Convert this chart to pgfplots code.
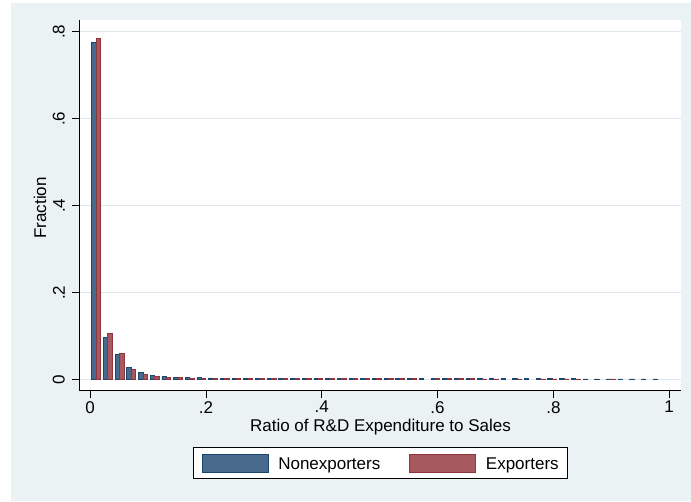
\documentclass[border=0pt]{standalone}
\usepackage{fontspec}
\setmainfont{Liberation Sans}
\usepackage{pgfplots}
\pgfplotsset{compat=1.18}
\usepackage{pgfplotstable}

\definecolor{graphbg}{RGB}{234,242,243}
\definecolor{gridc}{RGB}{222,232,236}
\definecolor{navyline}{RGB}{26,71,111}
\definecolor{navyfill}{RGB}{71,106,141}
\definecolor{maroonline}{RGB}{144,53,59}
\definecolor{maroonfill}{RGB}{166,90,96}

\newcommand\lblfont{\fontsize{17}{20}\selectfont}

\pgfplotsset{
  barkey/.style={legend image code/.code={\draw[##1] (0pt,-2.75pt) rectangle (66pt,14.95pt);}},
}

% Fraction of firms in each R&D-intensity bin (bin width 0.0202)
\pgfplotstableread{
x      y
0.0101 0.775
0.0303 0.097
0.0505 0.059
0.0707 0.028
0.0909 0.017
0.1111 0.0105
0.1313 0.0077
0.1515 0.0058
0.1717 0.0050
0.1919 0.0044
0.2121 0.0040
0.2323 0.0038
0.2525 0.0036
0.2727 0.0035
0.2929 0.0034
0.3131 0.0033
0.3333 0.0032
0.3535 0.0031
0.3737 0.0030
0.3939 0.0030
0.4141 0.0029
0.4343 0.0029
0.4545 0.0028
0.4747 0.0028
0.4949 0.0027
0.5151 0.0027
0.5353 0.0026
0.5555 0.0026
0.5757 0.0024
0.5959 0.0025
0.6161 0.0025
0.6363 0.0024
0.6565 0.0024
0.6767 0.0024
0.6969 0.0023
0.7171 0.0022
0.7373 0.0023
0.7575 0.0021
0.7777 0.0022
0.7979 0.0022
0.8181 0.0021
0.8383 0.0021
0.8585 0.0020
0.8787 0.0020
0.8989 0.0020
0.9191 0.0019
0.9393 0.0019
0.9595 0.0019
0.9797 0.0019
}\nonexporters

\pgfplotstableread{
x      y
0.0101 0.785
0.0303 0.107
0.0505 0.060
0.0707 0.0245
0.0909 0.0115
0.1111 0.0070
0.1313 0.0060
0.1515 0.0045
0.1717 0.0038
0.1919 0.0035
0.2121 0.0033
0.2323 0.0031
0.2525 0.0030
0.2727 0.0029
0.2929 0.0028
0.3131 0.0027
0.3333 0.0027
0.3535 0.0026
0.3737 0.0026
0.3939 0.0025
0.4141 0.0025
0.4343 0.0024
0.4545 0.0024
0.4747 0.0023
0.4949 0.0023
0.5151 0.0023
0.5353 0.0022
0.5555 0.0022
0.5959 0.0022
0.6161 0.0021
0.6363 0.0021
0.6565 0.0021
0.6767 0.0020
0.6969 0.0020
0.7373 0.0020
0.7777 0.0019
0.7979 0.0019
0.8181 0.0019
0.8383 0.0018
0.8989 0.0018
}\exporters

\begin{document}
\begin{tikzpicture}
\path[use as bounding box] (0pt,0pt) rectangle (691pt,-501pt);
\fill[graphbg] (11pt,-3pt) rectangle (691pt,-501pt);
\begin{axis}[
  at={(79pt,-390.7pt)}, anchor=south west,
  scale only axis, width=602pt, height=370.7pt,
  xmin=-0.0193, xmax=1.0204, ymin=-0.0253, ymax=0.8269,
  axis x line*=bottom, axis y line*=left,
  axis line style={-, line width=0.8pt, black},
  axis background/.style={fill=white},
  xtick={0,0.2,0.4,0.6,0.8,1}, xticklabels={0,.2,.4,.6,.8,1},
  ytick={0,0.2,0.4,0.6,0.8}, yticklabels={0,.2,.4,.6,.8},
  tick align=outside, major tick length=7pt,
  tick style={line width=0.8pt, black},
  ymajorgrids, grid style={gridc, line width=0.9pt},
  ticklabel style={font=\lblfont},
  xticklabel style={anchor=north, inner sep=0pt, yshift=-3.3pt},
  yticklabel style={xshift=-7pt, rotate=90, anchor=south, inner sep=0pt},
  ybar=0pt, bar width=4.4pt,
  legend columns=2,
  legend style={
    at={(0.5003,-0.1954)}, anchor=center,
    draw=black, line width=0.7pt, fill=white,
    inner xsep=8.7pt, inner ysep=6.3pt,
    font=\lblfont,
    nodes={inner sep=0pt, anchor=base west},
    /tikz/every odd column/.append style={column sep=10pt},
    /tikz/every even column/.append style={column sep=29pt},
  },
]
\addplot[draw=navyline, fill=navyfill, line width=0.6pt, bar shift=-2.2pt, barkey]
  table[x=x, y=y] {\nonexporters};
\addlegendentry{Nonexporters}
\addplot[draw=maroonline, fill=maroonfill, line width=0.6pt, bar shift=2.2pt, barkey]
  table[x=x, y=y] {\exporters};
\addlegendentry{Exporters}
\end{axis}
\node[anchor=base, font=\lblfont] at (380.5pt,-431.7pt) {Ratio of R\&D Expenditure to Sales};
\node[rotate=90, anchor=base, font=\lblfont] at (46pt,-208pt) {Fraction};
\end{tikzpicture}
\end{document}
